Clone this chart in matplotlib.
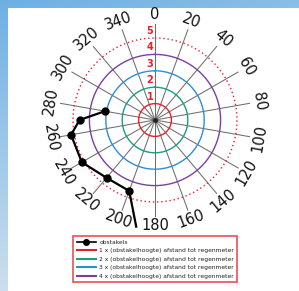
import numpy as np
import matplotlib
matplotlib.use("Agg")
import matplotlib.pyplot as plt
from matplotlib.patches import Rectangle
from matplotlib.lines import Line2D

# data
obst_angles = [280, 270, 260, 240, 220, 200, 190]
obst_radius = [3.1, 4.6, 5.2, 5.15, 4.6, 4.6, 6.6]
ring_radius = [1, 2, 3, 4, 5]
ring_colors = ["#e8202a", "#19a07a", "#2b8fd2", "#7d3f9f", "#e8202a"]
spoke_angles = list(range(0, 360, 20))
legend_labels = ["obstakels",
                 "1 x (obstakelhoogte) afstand tot regenmeter",
                 "2 x (obstakelhoogte) afstand tot regenmeter",
                 "3 x (obstakelhoogte) afstand tot regenmeter",
                 "4 x (obstakelhoogte) afstand tot regenmeter"]

W, H = 299, 291
fig = plt.figure(figsize=(W / 100, H / 100), dpi=100)

# background gradient frame
bg = fig.add_axes([0, 0, 1, 1])
bg.set_axis_off()
yy = np.linspace(0, 1, 100)[:, None]
xx = np.linspace(0, 1, 100)[None, :]
top = np.array([0.43, 0.69, 0.89])
bot = np.array([0.80, 0.87, 0.93])
right = np.array([0.62, 0.78, 0.91])
img = (top[None, None, :] * (1 - yy[..., None]) + bot[None, None, :] * yy[..., None])
img = img * (1 - xx[..., None] * 0.6) + (right[None, None, :] * (1 - yy[..., None]) + bot * yy[..., None]) * xx[..., None] * 0.6
bg.imshow(img, extent=[0, 1, 0, 1], aspect="auto", transform=bg.transAxes)
fig.patches.append(Rectangle((8 / W, 0), 1 - 8 / W, 1 - 8 / H, transform=fig.transFigure,
                             facecolor="white", edgecolor="none", zorder=1))

cx, cy, scale, rmax = 155, 120, 16.4, 7.0
rad = rmax * scale
ax = fig.add_axes([(cx - rad) / W, (H - cy - rad) / H, 2 * rad / W, 2 * rad / H],
                  projection="polar", zorder=2)
ax.set_theta_zero_location("N")
ax.set_theta_direction(-1)
ax.set_ylim(0, rmax)
ax.set_axis_off()
ax.patch.set_alpha(0)

# spokes
for a in spoke_angles:
    t = np.deg2rad(a)
    ax.plot([t, t], [0, 5.85], color="#6e6e6e", lw=0.75, zorder=1)
    rot = -a if (a <= 90 or a >= 270) else 180 - a
    ax.text(t, 6.45, str(a), rotation=rot,
            ha="center", va="center", fontsize=10.5, color="#111111")

# rings
th = np.linspace(0, 2 * np.pi, 400)
for r, c in zip(ring_radius, ring_colors):
    ls = (0, (1, 2)) if r == 5 else "-"
    ax.plot(th, np.full_like(th, r), color=c, lw=1.0, ls=ls, zorder=2)
    ax.annotate(str(r), xy=(0, r), xytext=(-5, 7), textcoords="offset pixels",
                ha="center", va="center", fontsize=7, fontweight="bold", color="#e8202a", zorder=4)

ax.plot([0], [0], marker="o", ms=2.5, color="#222222", zorder=3)

# obstacles
ot = np.deg2rad(obst_angles)
ax.plot(ot, obst_radius, color="black", lw=1.6, zorder=5, clip_on=False)
ax.plot(ot[:-1], obst_radius[:-1], "o", color="black", ms=5, zorder=6)

handles = [Line2D([], [], color="black", lw=1.2, marker="o", ms=4)]
for c in ring_colors[:4]:
    handles.append(Line2D([], [], color=c, lw=1.5))
leg = fig.legend(handles, legend_labels, loc="upper left",
                 bbox_to_anchor=(73 / W, 1 - 287 / H, (237 - 73) / W, (287 - 236) / H),
                 mode="expand", fontsize=4.3, frameon=True, fancybox=False,
                 handlelength=3.3, handletextpad=0.5, labelspacing=0.55,
                 borderpad=0.6, borderaxespad=0)
leg.get_frame().set_edgecolor("#e8202a")
leg.get_frame().set_linewidth(1.2)
leg.set_zorder(5)
for t in leg.get_texts():
    t.set_color("#222222")

fig.savefig("out.png", dpi=100)
